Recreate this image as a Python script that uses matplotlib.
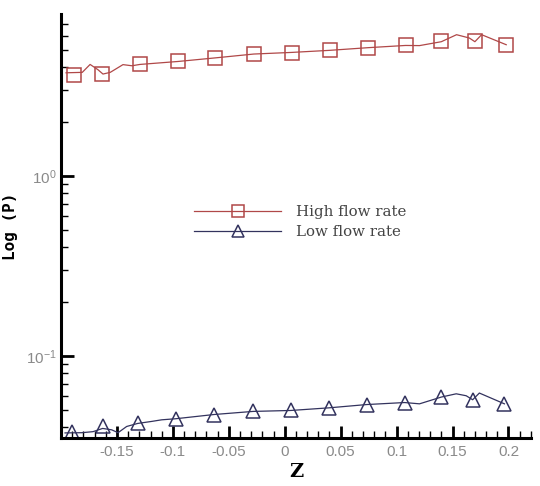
import matplotlib
matplotlib.use("Agg")
import matplotlib.pyplot as plt
from matplotlib.ticker import MultipleLocator, NullFormatter, LogLocator

# marker points
z_high = [-0.188, -0.163, -0.1295, -0.0955, -0.0625, -0.0277, 0.0063, 0.0402, 0.0741, 0.108, 0.140, 0.170, 0.198]
p_high = [3.64, 3.67, 4.15, 4.31, 4.51, 4.74, 4.82, 4.97, 5.14, 5.29, 5.60, 5.60, 5.34]
z_low = [-0.1904, -0.1628, -0.1315, -0.0976, -0.0631, -0.0283, 0.0055, 0.0396, 0.0732, 0.1071, 0.140, 0.168, 0.1964]
p_low = [0.0377, 0.0405, 0.0421, 0.0447, 0.0472, 0.0491, 0.0497, 0.0514, 0.0536, 0.0550, 0.0590, 0.0570, 0.0541]

# curve points (denser, with the wiggles)
zc_high = [-0.1955, -0.181, -0.174, -0.167, -0.1625, -0.156, -0.1446, -0.1366, -0.1295, -0.0955, -0.0625,
           -0.0277, 0.0063, 0.0402, 0.0741, 0.108, 0.1205, 0.140, 0.1536, 0.165, 0.170, 0.176, 0.198]
pc_high = [3.73, 3.75, 4.15, 3.88, 3.67, 3.75, 4.14, 4.08, 4.15, 4.31, 4.51,
           4.74, 4.84, 4.97, 5.14, 5.29, 5.28, 5.55, 6.07, 5.82, 5.55, 6.07, 5.34]
zc_low = [-0.1964, -0.1815, -0.1714, -0.1628, -0.1547, -0.149, -0.1413, -0.1315, -0.119, -0.110, -0.0976,
          -0.0631, -0.0283, 0.0055, 0.0396, 0.0732, 0.1071, 0.1205, 0.140, 0.1533, 0.1622, 0.168, 0.174, 0.1964]
pc_low = [0.0373, 0.0374, 0.0379, 0.0395, 0.0388, 0.0374, 0.0405, 0.0421, 0.0432, 0.0441, 0.0447,
          0.0472, 0.0491, 0.0497, 0.0514, 0.0536, 0.0550, 0.0541, 0.0590, 0.0615, 0.0600, 0.0570, 0.0621, 0.0541]

red = '#b04848'
navy = '#33335e'
grey = '#8a8a8a'

fig = plt.figure(figsize=(5.4, 4.86), dpi=100)
ax = fig.add_axes([0.113, 0.099, 0.870, 0.872])

ax.plot(zc_high, pc_high, color=red, lw=0.9)
ax.plot(z_high, p_high, ls='none', marker='s', ms=10.5, mfc='none', mec=red, mew=1.1)
ax.plot(zc_low, pc_low, color=navy, lw=0.9)
ax.plot(z_low, p_low, ls='none', marker='^', ms=10.5, mfc='none', mec=navy, mew=1.1)

# legend handles
ax.plot([], [], color=red, lw=0.9, marker='s', ms=9, mfc='none', mec=red, mew=1.1, label='High flow rate')
ax.plot([], [], color=navy, lw=0.9, marker='^', ms=9, mfc='none', mec=navy, mew=1.1, label='Low flow rate')
ax.legend(loc='center left', bbox_to_anchor=(0.255, 0.51), frameon=False, handlelength=5.8,
          handletextpad=1.0, labelspacing=0.4, prop={'family': 'DejaVu Serif', 'size': 10.8},
          labelcolor='#444444')

ax.set_yscale('log')
ax.set_xlim(-0.2, 0.22)
ax.set_ylim(0.035, 7.9)

ax.xaxis.set_major_locator(MultipleLocator(0.05))
ax.xaxis.set_minor_locator(MultipleLocator(0.01))
ax.yaxis.set_major_locator(LogLocator(base=10))
ax.yaxis.set_minor_locator(LogLocator(base=10, subs=range(2, 10)))
ax.yaxis.set_minor_formatter(NullFormatter())

xt = [-0.15, -0.1, -0.05, 0, 0.05, 0.1, 0.15, 0.2]
ax.set_xticks(xt)
ax.set_xticklabels(['-0.15', '-0.1', '-0.05', '0', '0.05', '0.1', '0.15', '0.2'])

for s in ['top', 'right']:
    ax.spines[s].set_visible(False)
for s in ['left', 'bottom']:
    ax.spines[s].set_linewidth(2.2)

ax.tick_params(which='major', direction='in', length=9, width=2, labelsize=11, labelcolor=grey, pad=5)
ax.tick_params(axis='y', which='major', pad=3)
ax.tick_params(which='minor', direction='in', length=5, width=1)
for lab in ax.get_xticklabels() + ax.get_yticklabels():
    lab.set_family('Liberation Sans')

ax.set_xlabel('Z', fontsize=14, fontweight='bold', family='DejaVu Serif', labelpad=3)
ax.set_ylabel('Log (P)', fontsize=11.5, fontweight='bold', family='DejaVu Sans Mono')
ax.yaxis.set_label_coords(-0.092, 0.5)

fig.savefig('out.png', dpi=100)
